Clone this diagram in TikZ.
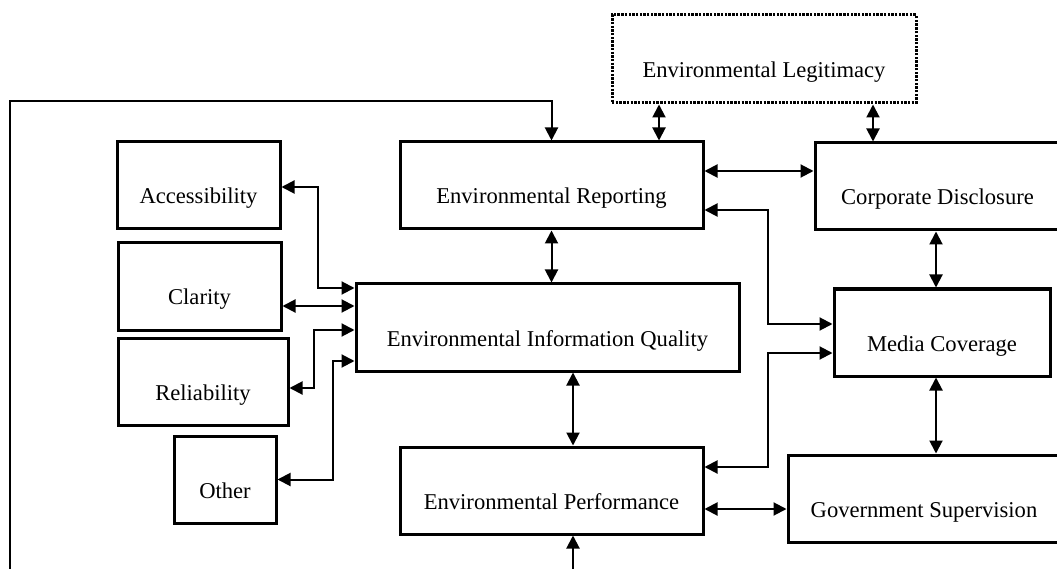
\documentclass[tikz,border=0pt]{standalone}
\usepackage{fontspec}
\setmainfont{Liberation Serif}
\usetikzlibrary{arrows.meta}
\begin{document}
\begin{tikzpicture}[x=1pt,y=-1pt,
  box/.style={draw, line width=3pt, rectangle, minimum height=87pt, inner sep=0pt,
    align=center, font=\fontsize{22.6}{27}\selectfont, text height=42pt, text depth=5pt},
  legbox/.style={box, dash pattern=on 2.4pt off 1.3pt},
  link/.style={line width=2pt, -{Triangle[length=13pt,width=13pt]}},
  dlink/.style={line width=2pt, {Triangle[length=13pt,width=13pt]}-{Triangle[length=13pt,width=13pt]}}]
% page
\useasboundingbox (0,0) rectangle (1057,569);
\fill[white] (0,0) rectangle (1057,569);
\clip (0,0) rectangle (1057,569);

% boxes
\node[legbox, minimum width=304pt, minimum height=88pt] (leg) at (764,59) {Environmental Legitimacy};
\node[box, minimum width=303pt] (rep)  at (551.5,185.5) {Environmental Reporting};
\node[box, minimum width=245pt] (corp) at (937.5,186.5) {Corporate Disclosure};
\node[box, minimum width=383pt] (eiq)  at (547.5,327.5) {Environmental Information Quality};
\node[box, minimum width=216pt] (media) at (942,332.5) {Media Coverage};
\node[box, minimum width=303pt] (perf) at (551.5,490.5) {Environmental Performance};
\node[box, minimum width=272pt] (gov)  at (924,498.5) {Government Supervision};
\node[box, minimum width=163pt] (acc)  at (198.5,185.5) {Accessibility};
\node[box, minimum width=163pt] (cla)  at (199.5,286.5) {Clarity};
\node[box, minimum width=170pt] (rel)  at (203,381.5) {Reliability};
\node[box, minimum width=102pt] (oth)  at (225,479.5) {Other};

% bus lines for the elbow connectors
\coordinate (busR) at (768,0);
\coordinate (busA) at (318,0);
\coordinate (busB) at (314,0);
\coordinate (busC) at (333,0);

% feedback loop from the bottom edge
\coordinate (fbstart) at (10,580);
\coordinate (fbtop) at (10,101);
\draw[link] (fbstart) -- (fbtop) -| (rep.north);

% incoming arrow from below
\coordinate (bot) at (573,580);
\draw[link] (bot) -- (bot |- perf.south);

% vertical links
\draw[dlink] ([xshift=-105pt]leg.south) -- ([xshift=-105pt]leg.south |- rep.north);
\draw[dlink] ([xshift=109pt]leg.south) -- ([xshift=109pt]leg.south |- corp.north);
\draw[dlink] (rep.south) -- (rep.south |- eiq.north);
\draw[dlink] ([xshift=25.5pt]eiq.south) -- ([xshift=25.5pt]eiq.south |- perf.north);
\draw[dlink] ([xshift=-1.5pt]corp.south) -- ([xshift=-1.5pt]corp.south |- media.north);
\draw[dlink] ([xshift=-6pt]media.south) -- ([xshift=-6pt]media.south |- gov.north);

% horizontal links
\draw[dlink] ([yshift=14.5pt]rep.east) -- ([yshift=14.5pt]rep.east -| corp.west);
\draw[dlink] ([yshift=-18.5pt]perf.east) -- ([yshift=-18.5pt]perf.east -| gov.west);
\draw[dlink] ([yshift=21.5pt]eiq.west -| cla.east) -- ([yshift=21.5pt]eiq.west);

% elbow links on the right
\draw[dlink] ([yshift=-24.5pt]rep.east) -| ([yshift=8.5pt]media.west -| busR) -- ([yshift=8.5pt]media.west);
\draw[dlink] ([yshift=23.5pt]perf.east) -| ([yshift=-20.5pt]media.west -| busR) -- ([yshift=-20.5pt]media.west);

% elbow links on the left
\draw[dlink] ([yshift=-1.5pt]acc.east) -| ([yshift=39.5pt]eiq.west -| busA) -- ([yshift=39.5pt]eiq.west);
\draw[dlink] ([yshift=-2.5pt]eiq.west) -| ([yshift=-6.5pt]rel.east -| busB) -- ([yshift=-6.5pt]rel.east);
\draw[dlink] ([yshift=-33.5pt]eiq.west) -| (oth.east -| busC) -- (oth.east);
\end{tikzpicture}
\end{document}
